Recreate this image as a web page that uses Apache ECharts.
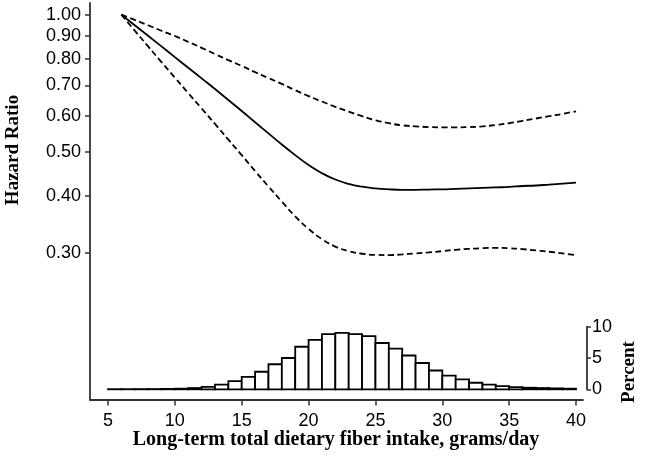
<!DOCTYPE html>
<html>
<head>
<meta charset="utf-8">
<script src="https://cdn.jsdelivr.net/npm/echarts@6/dist/echarts.min.js"></script>
<style>
  html, body { margin: 0; padding: 0; background: #fff; }
  #chart { width: 646px; height: 468px; }
</style>
</head>
<body>
<div id="chart"></div>
<script>
// ---- Data ----
const xTicks = [5, 10, 15, 20, 25, 30, 35, 40];
const hrTicks = [0.3, 0.4, 0.5, 0.6, 0.7, 0.8, 0.9, 1.0];
const pctTicks = [0, 5, 10];

const fiber = [6, 7, 8, 9, 10, 11, 12, 13, 14, 15, 16, 17, 18, 19, 20, 21, 22, 23,
               24, 25, 26, 27, 28, 29, 30, 31, 32, 33, 34, 35, 36, 37, 38, 39, 40];
const hr = [1.000, 0.948, 0.899, 0.852, 0.807, 0.765, 0.725, 0.687, 0.650, 0.615,
            0.581, 0.549, 0.519, 0.492, 0.468, 0.449, 0.435, 0.4255, 0.4195, 0.416,
            0.414, 0.413, 0.413, 0.4135, 0.414, 0.415, 0.416, 0.417, 0.418, 0.419,
            0.421, 0.422, 0.424, 0.426, 0.428];
const upper = [1.000, 0.974, 0.948, 0.922, 0.898, 0.872, 0.846, 0.820, 0.795, 0.772,
               0.748, 0.726, 0.705, 0.683, 0.663, 0.645, 0.628, 0.613, 0.599, 0.587,
               0.578, 0.572, 0.569, 0.567, 0.566, 0.566, 0.567, 0.569, 0.573, 0.578,
               0.585, 0.592, 0.599, 0.606, 0.614];
const lower = [1.000, 0.923, 0.852, 0.787, 0.728, 0.673, 0.623, 0.576, 0.532, 0.492,
               0.454, 0.420, 0.389, 0.361, 0.339, 0.322, 0.310, 0.303, 0.299, 0.2973,
               0.2970, 0.2980, 0.2995, 0.301, 0.303, 0.305, 0.3065, 0.3075, 0.308, 0.3075,
               0.306, 0.304, 0.302, 0.2995, 0.297];

const binStart = [5, 6, 7, 8, 9, 10, 11, 12, 13, 14, 15, 16, 17, 18, 19, 20, 21, 22,
                  23, 24, 25, 26, 27, 28, 29, 30, 31, 32, 33, 34, 35, 36, 37, 38, 39];
const binEnd = [6, 7, 8, 9, 10, 11, 12, 13, 14, 15, 16, 17, 18, 19, 20, 21, 22, 23,
                24, 25, 26, 27, 28, 29, 30, 31, 32, 33, 34, 35, 36, 37, 38, 39, 40];
const binPct = [0.02, 0.02, 0.03, 0.04, 0.06, 0.1, 0.2, 0.4, 0.75, 1.3, 2.0, 2.8, 4.0, 5.0,
                6.8, 7.9, 8.8, 9.0, 8.8, 8.5, 7.4, 6.5, 5.4, 4.2, 3.0, 2.2, 1.6, 1.05,
                0.75, 0.5, 0.35, 0.25, 0.2, 0.15, 0.1];

// ---- Build ----
const zip = (a, b) => a.map((v, i) => [v, b[i]]);
const bins = binStart.map((s, i) => [s, binEnd[i], binPct[i]]);

const axisColor = '#333';
const tickFont = { fontFamily: 'Liberation Sans', fontSize: 18, color: '#000' };
const titleFont = "bold 19px 'Liberation Serif'";

const chart = echarts.init(document.getElementById('chart'), null, { renderer: 'canvas' });
chart.setOption({
  animation: false,
  backgroundColor: '#fff',
  grid: [
    { left: 90, right: 63, top: 3, bottom: 68.5 },
    { left: 90, right: 63, top: 326.7, bottom: 78.7 }
  ],
  xAxis: [
    {
      type: 'value', gridIndex: 0, min: 3.654, max: 40.52,
      axisLine: { show: true, lineStyle: { color: axisColor, width: 1.8 } },
      axisTick: { show: true, customValues: xTicks, length: 6, lineStyle: { color: axisColor, width: 1.5 } },
      axisLabel: Object.assign({ customValues: xTicks, margin: 13 }, tickFont),
      splitLine: { show: false }
    },
    {
      type: 'value', gridIndex: 1, min: 3.654, max: 40.52, show: false
    }
  ],
  yAxis: [
    {
      type: 'log', gridIndex: 0, min: 0.1432, max: 1.0609,
      axisLine: { show: true, lineStyle: { color: axisColor, width: 1.8 } },
      axisTick: { show: true, customValues: hrTicks, length: 5, lineStyle: { color: axisColor, width: 1.5 } },
      axisLabel: Object.assign({ customValues: hrTicks, margin: 9, formatter: v => Number(v).toFixed(2) }, tickFont),
      splitLine: { show: false },
      minorTick: { show: false }
    },
    {
      type: 'value', gridIndex: 1, position: 'right', offset: 4, min: 0, max: 10, interval: 5,
      axisLine: { show: true, lineStyle: { color: axisColor, width: 1.8 } },
      axisTick: { show: true, length: 4, lineStyle: { color: axisColor, width: 1.5 } },
      axisLabel: Object.assign({ margin: 5 }, tickFont),
      splitLine: { show: false }
    }
  ],
  series: [
    {
      type: 'custom', xAxisIndex: 1, yAxisIndex: 1, data: bins,
      encode: { x: [0, 1], y: 2 },
      renderItem: function (params, api) {
        const p0 = api.coord([api.value(0), 0]);
        const p1 = api.coord([api.value(1), api.value(2)]);
        return {
          type: 'rect',
          shape: { x: p0[0], y: p1[1], width: p1[0] - p0[0], height: p0[1] - p1[1] },
          style: { fill: '#fff', stroke: '#000', lineWidth: 1.8 }
        };
      }
    },
    {
      type: 'line', xAxisIndex: 0, yAxisIndex: 0, data: zip(fiber, upper),
      smooth: true, showSymbol: false,
      lineStyle: { color: '#000', width: 1.8, type: [6, 3.5] }
    },
    {
      type: 'line', xAxisIndex: 0, yAxisIndex: 0, data: zip(fiber, lower),
      smooth: true, showSymbol: false,
      lineStyle: { color: '#000', width: 1.8, type: [6, 3.5] }
    },
    {
      type: 'line', xAxisIndex: 0, yAxisIndex: 0, data: zip(fiber, hr),
      smooth: true, showSymbol: false,
      lineStyle: { color: '#000', width: 1.8 }
    }
  ],
  graphic: [
    {
      type: 'text', x: 13, y: 150, rotation: Math.PI / 2,
      style: { text: 'Hazard Ratio', font: titleFont, fill: '#000', align: 'center', verticalAlign: 'middle' }
    },
    {
      type: 'text', x: 629, y: 372, rotation: Math.PI / 2,
      style: { text: 'Percent', font: titleFont, fill: '#000', align: 'center', verticalAlign: 'middle' }
    },
    {
      type: 'text', x: 336, y: 440,
      style: { text: 'Long-term total dietary fiber intake, grams/day', font: "bold 20px 'Liberation Serif'", fill: '#000', align: 'center', verticalAlign: 'middle' }
    }
  ]
});
</script>
</body>
</html>
